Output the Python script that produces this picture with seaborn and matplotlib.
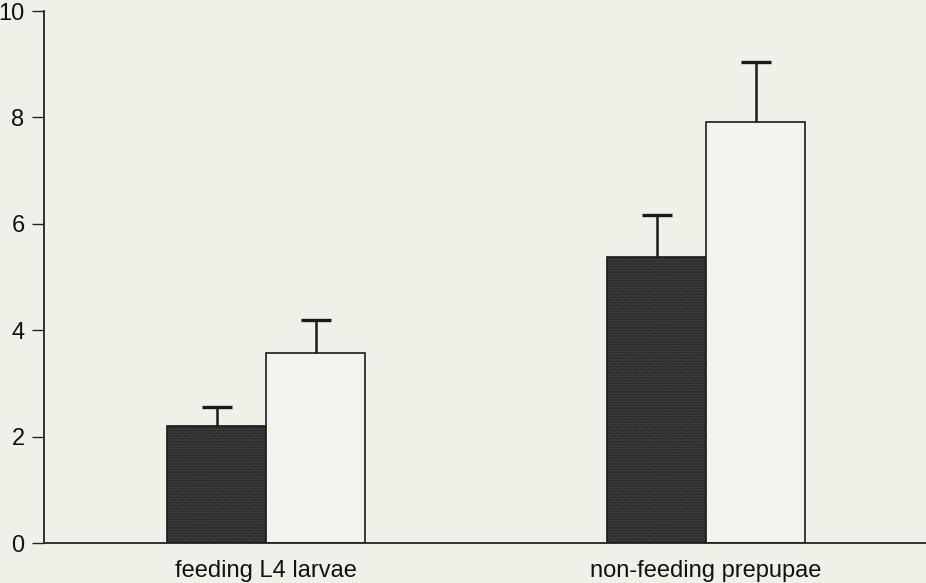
import matplotlib
matplotlib.use("Agg")
import matplotlib.pyplot as plt
import seaborn as sns
import pandas as pd

stages = ["feeding L4 larvae", "non-feeding prepupae"]
groups = ["A", "B"]
means_a = [2.20, 5.38]
means_b = [3.57, 7.91]
err_a = [0.36, 0.79]
err_b = [0.62, 1.13]
y_ticks = [0, 2, 4, 6, 8, 10]

df = pd.DataFrame({
    "stage": stages * 2,
    "group": [groups[0]] * 2 + [groups[1]] * 2,
    "value": means_a + means_b,
    "err": err_a + err_b,
})

sns.set_style("ticks")
plt.rcParams["font.family"] = ["Liberation Sans", "DejaVu Sans"]
plt.rcParams["hatch.color"] = "#757575"
plt.rcParams["hatch.linewidth"] = 0.6

bg = "#f1f0e8"
fig = plt.figure(figsize=(9.26, 5.83), dpi=100, facecolor=bg)
ax = fig.add_axes([44 / 926, 40 / 583, 1 - 44 / 926, 532 / 583])
ax.set_facecolor(bg)

sns.barplot(data=df, x="stage", y="value", hue="group", order=stages,
            hue_order=groups, palette=["#3b3b3b", "#f4f3ec"], width=0.45,
            gap=0, errorbar=None, edgecolor="#1a1a1a", linewidth=1.2,
            legend=False, ax=ax)

# stippled texture on the dark bars, upward-only error bars
for patch, (_, row) in zip(ax.patches, df.iterrows()):
    if row["group"] == groups[0]:
        patch.set_hatch("......")
    cx = patch.get_x() + patch.get_width() / 2
    _, caps, _ = ax.errorbar(cx, row["value"], yerr=[[0], [row["err"]]],
                             fmt="none", ecolor="#1a1a1a", elinewidth=1.8,
                             capsize=11, capthick=2.4, zorder=3)
    caps[0].set_visible(False)

ax.set_xlim(-0.505, 1.5)
ax.set_ylim(0, 10)
ax.set_yticks(y_ticks)
ax.set_yticklabels([str(t) for t in y_ticks])
ax.set_xlabel("")
ax.set_ylabel("")
ax.tick_params(axis="y", length=9, width=1.0, color="#222222", labelsize=17,
               pad=5, labelcolor="#111111")
ax.tick_params(axis="x", length=0, labelsize=17, pad=12, labelcolor="#111111")
for side in ["top", "right"]:
    ax.spines[side].set_visible(False)
for side in ["left", "bottom"]:
    ax.spines[side].set_color("#222222")
    ax.spines[side].set_linewidth(1.3)

fig.savefig("out.png", dpi=100, facecolor=bg)
